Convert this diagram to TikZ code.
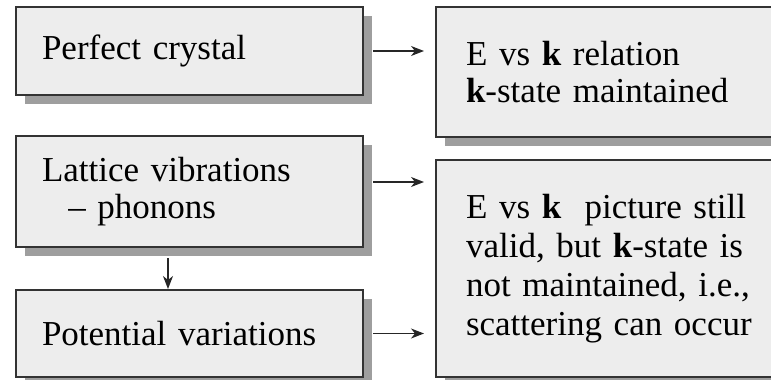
\documentclass[tikz,border=0pt]{standalone}
\usepackage{fontspec}
\setmainfont{Liberation Serif}
\usetikzlibrary{arrows.meta,shadows}
\begin{document}
\begin{tikzpicture}[x=0.5pt,y=-0.5pt,
    box/.style={draw=black!80, line width=1pt, fill=black!7, align=left,
      inner xsep=13pt, inner ysep=0pt,
      font=\fontsize{17.5}{18.5}\selectfont,
      drop shadow={shadow xshift=4.5pt, shadow yshift=-4.5pt, fill=black!38, opacity=1}},
    arr/.style={-{Stealth[length=6.5pt,width=5pt,inset=2pt]}, line width=0.6pt, black!85}]
  \clip (0,0) rectangle (771,380);
  % left column
  \node[box, text width=147.5pt, minimum height=44pt] (pc) at (189.5,51) {Perfect crystal};
  \node[box, text width=147.5pt, minimum height=55.5pt] (lv) at (189.5,191.5)
    {Lattice vibrations\\ \hspace*{0.75em}– phonons};
  \node[box, text width=147.5pt, minimum height=43.5pt] (pv) at (189.5,333.5) {Potential variations};
  % right column
  \node[box, inner xsep=15pt, text width=147pt, minimum height=65pt] (ek) at (613,72)
    {E vs \textbf{k} relation\\ \textbf{k}-state maintained};
  \node[box, inner xsep=15pt, text width=147pt, minimum height=108.5pt,
    font=\fontsize{17.5}{19.5}\selectfont] (ev) at (613,268.5)
    {E vs \textbf{k}\ \ picture still\\ valid, but \textbf{k}-state is\\ not maintained, i.e.,\\ scattering can occur};
  % arrows
  \coordinate (a2) at ([yshift=4.75pt]lv.east);
  \draw[arr, shorten <=4.5pt, shorten >=5.5pt] (pc.east) -- (pc.east -| ek.west);
  \draw[arr, shorten <=4.5pt, shorten >=5.5pt] (a2) -- (a2 -| ev.west);
  \draw[arr, shorten <=4.5pt, shorten >=5.5pt] (pv.east) -- (pv.east -| ev.west);
  \draw[arr, shorten <=5pt] ([xshift=-10.75pt]lv.south) -- ([xshift=-10.75pt]pv.north);
\end{tikzpicture}
\end{document}
